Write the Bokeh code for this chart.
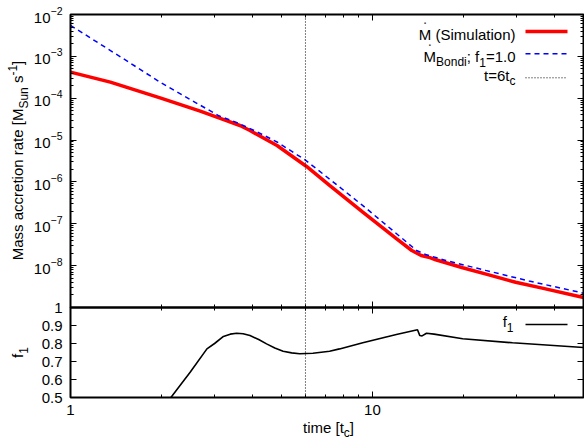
import math
from bokeh.plotting import figure
from bokeh.models import (Range1d, LinearScale, LogAxis, LinearAxis, FixedTicker,
                          BasicTickFormatter, Label, Arrow, BoxAnnotation)
from bokeh.embed import file_html
from bokeh.resources import INLINE

# ---------------- data ----------------
t_sim = [1.0, 1.355, 1.98, 2.69, 3.25, 3.64, 3.93, 4.83, 6.05, 7.21, 9.29, 12.0,
         13.5, 14.5, 15.5, 16.2, 19.9, 24.3, 29.8, 36.5, 50.0]
mdot_sim = [4.19e-4, 2.42e-4, 1.02e-4, 4.9e-5, 3.0e-5, 2.23e-5, 1.69e-5, 7.4e-6,
            2.34e-6, 8.3e-7, 1.9e-7, 4.4e-8, 2.3e-8, 1.75e-8, 1.55e-8, 1.38e-8,
            8.9e-9, 6.0e-9, 4.0e-9, 2.9e-9, 1.74e-9]

t_bondi = [1.0, 1.5, 2.0, 2.69, 3.1, 3.59, 4.2, 4.83, 5.97, 7.21, 9.25, 12.4, 14.0,
           15.0, 17.5, 23.7, 33.0, 50.0]
mdot_bondi = [5.5e-3, 8.7e-4, 2.31e-4, 6.8e-5, 3.8e-5, 2.55e-5, 1.5e-5, 9.0e-6,
              3.4e-6, 1.17e-6, 2.8e-7, 4.8e-8, 2.3e-8, 1.85e-8, 1.33e-8, 7.7e-9,
              4.3e-9, 2.2e-9]

t_f1 = [2.15, 2.49, 2.83, 3.0, 3.21, 3.38, 3.55, 3.73, 3.93, 4.2, 4.46, 4.75, 5.06,
        5.4, 5.74, 6.35, 7.21, 7.78, 9.29, 12.0, 14.1, 14.35, 14.6, 15.1, 16.0,
        19.9, 29.1, 50.0]
f1 = [0.5, 0.64, 0.77, 0.80, 0.839, 0.852, 0.857, 0.854, 0.844, 0.822, 0.798, 0.775,
      0.757, 0.748, 0.743, 0.746, 0.757, 0.77, 0.804, 0.85, 0.876, 0.844, 0.842,
      0.857, 0.852, 0.826, 0.804, 0.778]

t_mark = 6.0
x_lim = (1.0, 50.0)
mdot_lim = (1e-9, 1e-2)
f_lim = (0.5, 1.0)
x_major = [1, 10]
x_minor = [2, 3, 4, 5, 6, 7, 8, 9, 20, 30, 40]
y_major = [1e-8, 1e-7, 1e-6, 1e-5, 1e-4, 1e-3, 1e-2]
f_ticks = [0.5, 0.6, 0.7, 0.8, 0.9, 1.0]

# ---------------- layout (page pixels) ----------------
FONT = "Liberation Sans"
FS = 15.0
W, H = 584, 443
BOX_L, BOX_R = 70, 583          # plot box, x
BOX_T, BOX_M, BOX_B = 14, 307, 397   # plot box, y (top, split, bottom)

dec_x = (BOX_R - BOX_L) / math.log10(x_lim[1] / x_lim[0])
x_start = x_lim[0] / 10 ** (BOX_L / dec_x)
x_end = x_lim[1] * 10 ** ((W - BOX_R) / dec_x)
dec_y = (BOX_M - BOX_T) / math.log10(mdot_lim[1] / mdot_lim[0])
y_end = mdot_lim[1] * 10 ** (BOX_T / dec_y)
y_start = mdot_lim[0] / 10 ** ((H - BOX_M) / dec_y)
f_px = (BOX_B - BOX_M) / (f_lim[1] - f_lim[0])
f_start = f_lim[0] - (H - BOX_B) / f_px
f_end = f_lim[1] + BOX_M / f_px

p = figure(width=W, height=H, x_axis_type="log", y_axis_type="log",
           x_axis_location=None, y_axis_location=None,
           x_range=Range1d(x_start, x_end), y_range=Range1d(y_start, y_end),
           output_backend="svg", toolbar_location=None,
           min_border_left=0, min_border_right=0, min_border_top=0, min_border_bottom=0)
p.extra_y_ranges = {"f": Range1d(f_start, f_end)}
p.extra_y_scales = {"f": LinearScale()}
p.grid.visible = False
p.outline_line_color = None
p.background_fill_color = "white"
p.border_fill_color = "white"

minor_y = [k * 10.0 ** e for e in range(-9, -2) for k in range(2, 10)]


def style_axis(ax, labels=True):
    ax.axis_line_color = None
    ax.major_tick_line_color = "black"
    ax.minor_tick_line_color = "black"
    ax.major_tick_line_width = 1
    ax.minor_tick_line_width = 1
    ax.major_tick_in = 6
    ax.major_tick_out = 0
    ax.minor_tick_in = 3
    ax.minor_tick_out = 0
    ax.major_label_text_font = FONT
    ax.major_label_text_font_size = f"{FS}px"
    ax.major_label_text_color = "black" if labels else None


def xticker():
    return FixedTicker(ticks=x_major, minor_ticks=x_minor)


# x axes: bottom (labelled), split line, top
xb = LogAxis(y_range_name="f", fixed_location=f_lim[0], ticker=xticker(),
             formatter=BasicTickFormatter())
style_axis(xb)
xb.major_label_standoff = 7
p.add_layout(xb, "below")

xm = LogAxis(y_range_name="f", fixed_location=f_lim[1], ticker=xticker(),
             formatter=BasicTickFormatter())
style_axis(xm, labels=False)
xm.major_tick_out = 6
xm.minor_tick_out = 3
p.add_layout(xm, "below")

xt = LogAxis(fixed_location=mdot_lim[1], ticker=xticker(), formatter=BasicTickFormatter())
style_axis(xt, labels=False)
p.add_layout(xt, "above")

# y axes: left (labelled) and right mirrors
yl = LogAxis(fixed_location=x_lim[0], ticker=FixedTicker(ticks=y_major, minor_ticks=minor_y))
style_axis(yl)
yl.major_label_standoff = 8
p.add_layout(yl, "left")

yf = LinearAxis(y_range_name="f", fixed_location=x_lim[0],
                ticker=FixedTicker(ticks=f_ticks, minor_ticks=[]))
style_axis(yf)
yf.minor_tick_in = 0
yf.major_label_standoff = 8
yf.major_label_overrides = {1.0: "1"}
p.add_layout(yf, "left")

yr = LogAxis(fixed_location=x_lim[1], ticker=FixedTicker(ticks=y_major, minor_ticks=minor_y),
             formatter=BasicTickFormatter())
style_axis(yr, labels=False)
p.add_layout(yr, "right")

yfr = LinearAxis(y_range_name="f", fixed_location=x_lim[1],
                 ticker=FixedTicker(ticks=f_ticks, minor_ticks=[]))
style_axis(yfr, labels=False)
yfr.minor_tick_in = 0
p.add_layout(yfr, "right")

# data
p.line(t_sim, mdot_sim, line_color="#ff0000", line_width=3.5)
p.line(t_bondi, mdot_bondi, line_color="#0000ff", line_width=1.5, line_dash="5 4")
p.line(t_f1, f1, line_color="black", line_width=1.6, y_range_name="f")

# t = 6 t_c marker through both panels
p.segment(x0=[t_mark], y0=[mdot_lim[0]], x1=[t_mark], y1=[mdot_lim[1]],
          line_color="black", line_width=1, line_dash="1 2")
p.segment(x0=[t_mark], y0=[f_lim[0]], x1=[t_mark], y1=[f_lim[1]],
          line_color="black", line_width=1, line_dash="1 2", y_range_name="f")

# panel frames
p.add_layout(BoxAnnotation(left=x_lim[0], right=x_lim[1], bottom=mdot_lim[0], top=mdot_lim[1],
                           fill_alpha=0, line_color="black", line_width=2, line_alpha=1))
p.add_layout(BoxAnnotation(left=x_lim[0], right=x_lim[1], bottom=f_lim[0], top=f_lim[1],
                           y_range_name="f", fill_alpha=0, line_color="black",
                           line_width=2, line_alpha=1))

# ---------------- text helpers ----------------
ADV = {" ": 278, "(": 333, ")": 333, "-": 333, ".": 278, ";": 278, "=": 584,
       "[": 278, "]": 278, "B": 667, "M": 833, "S": 667, "a": 556, "c": 500,
       "d": 556, "e": 556, "f": 278, "i": 222, "l": 222, "m": 833, "n": 556,
       "o": 556, "r": 333, "s": 500, "t": 278, "u": 556}
SCALE = {"n": 1.0, "sub": 0.8, "sup": 0.8}
SHIFT = {"n": 0.0, "sub": -0.27, "sup": 0.45}
FIX_H = 7.0 / 15.0     # renderer places 'alphabetic' text lower than its anchor
FIX_R = 10.0 / 15.0


def tw(s, size):
    return sum(ADV.get(ch, 556) for ch in s) * size / 1000.0


def px2s(px, py):
    # page pixel -> screen units (frame = whole canvas, origin bottom-left)
    return px, H - py


def rich(segs, px, py, size=FS, align="left", angle=0.0):
    x0, y0 = px2s(px, py)
    widths = [tw(t, size * SCALE[k]) for t, k in segs]
    total = sum(widths)
    pos = {"left": 0.0, "right": -total, "center": -total / 2}[align]
    ca, sa = math.cos(angle), math.sin(angle)
    fix = FIX_R if angle else FIX_H
    starts = []
    for (t, k), w in zip(segs, widths):
        starts.append((pos, w))
        if t.strip():
            fs = size * SCALE[k]
            dy = SHIFT[k] * size + fix * fs
            sx = x0 + pos * ca - dy * sa
            sy = y0 + pos * sa + dy * ca
            p.add_layout(Label(x=sx, y=sy, x_units="screen", y_units="screen", text=t,
                               angle=angle, text_font=FONT,
                               text_font_size=f"{fs:.2f}px",
                               text_align="left", text_baseline="alphabetic",
                               text_color="black"))
        pos += w
    return x0, y0, starts


def dot_over(x0, start, w, py):
    _, sy = px2s(0, py)
    p.add_layout(Label(x=x0 + start + w / 2, y=sy + FIX_H * FS, x_units="screen",
                       y_units="screen", text=".", text_font=FONT,
                       text_font_size=f"{FS}px", text_align="center",
                       text_baseline="alphabetic"))


def sample(py, **kw):
    xa, sy = px2s(525, py)
    xb_, _ = px2s(567, py)
    p.add_layout(Arrow(end=None, x_start=xa, y_start=sy, x_end=xb_, y_end=sy,
                       start_units="screen", end_units="screen", **kw))


# axis titles
rich([("Mass accretion rate [M", "n"), ("Sun", "sub"), (" ", "n"), ("s", "n"),
      ("-1", "sup"), ("]", "n")], 27, 160, align="center", angle=math.pi / 2)
rich([("f", "n"), ("1", "sub")], 27, 352, align="center", angle=math.pi / 2)
rich([("time [t", "n"), ("c", "sub"), ("]", "n")], 328, 434, align="center")

# legend (top panel)
x0, _, st = rich([("M", "n"), (" ", "n"), ("(Simulation)", "n")], 515, 40.7, align="right")
dot_over(x0, st[0][0], st[0][1], 25.5)
sample(31, line_color="#ff0000", line_width=3.5)

x0, _, st = rich([("M", "n"), ("Bondi", "sub"), (";", "n"), (" ", "n"), ("f", "n"),
                  ("1", "sub"), ("=1.0", "n")], 515, 63.3, align="right")
dot_over(x0, st[0][0], st[0][1], 47)
sample(53.3, line_color="#0000ff", line_width=1.5, line_dash="5 4")

rich([("t=6t", "n"), ("c", "sub")], 515, 81.7, align="right")
sample(77.3, line_color="black", line_width=1, line_dash="1 2")

# legend (lower panel)
rich([("f", "n"), ("1", "sub")], 513, 328.3, align="right")
sample(324, line_color="black", line_width=1.6)

open("out.html", "w").write(file_html(p, INLINE))
